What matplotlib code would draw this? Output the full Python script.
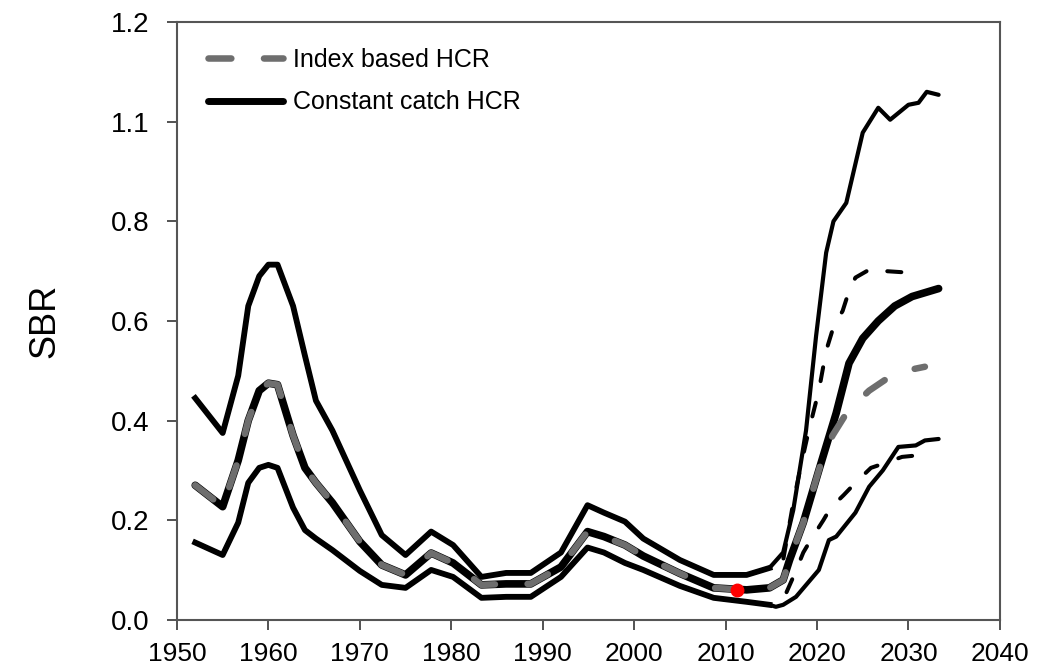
import matplotlib.pyplot as plt
from matplotlib.lines import Line2D

plt.rcParams['font.family'] = ['Liberation Sans', 'DejaVu Sans']

# historic SBR (both HCRs share this part)
hist_years = [1952, 1955, 1956.7, 1957.8, 1959, 1960, 1961, 1962.7, 1964, 1965.2,
              1967, 1970, 1972.4, 1975, 1977.8, 1980.2, 1983.3, 1986, 1988.7, 1992,
              1994.9, 1996.7, 1999, 2001, 2005, 2008.7, 2012.3, 2014.8]
hist_upper = [0.445, 0.375, 0.49, 0.63, 0.69, 0.713, 0.713, 0.63, 0.53, 0.44,
              0.38, 0.26, 0.17, 0.13, 0.177, 0.15, 0.086, 0.094, 0.094, 0.135,
              0.23, 0.215, 0.197, 0.163, 0.12, 0.09, 0.09, 0.104]
hist_median = [0.27, 0.227, 0.32, 0.40, 0.46, 0.475, 0.472, 0.37, 0.305, 0.275,
               0.235, 0.157, 0.11, 0.09, 0.134, 0.114, 0.07, 0.072, 0.072, 0.106,
               0.177, 0.167, 0.15, 0.128, 0.093, 0.064, 0.06, 0.064]
hist_lower = [0.155, 0.13, 0.195, 0.275, 0.305, 0.311, 0.305, 0.225, 0.18, 0.163,
              0.14, 0.098, 0.07, 0.064, 0.10, 0.086, 0.044, 0.046, 0.046, 0.086,
              0.145, 0.135, 0.114, 0.10, 0.068, 0.044, 0.036, 0.03]

# constant catch HCR projections
cc_up_years = [2016.3, 2017.4, 2018.8, 2019.9, 2021, 2021.8, 2023.2, 2025, 2026.7,
               2028, 2030, 2031.1, 2032, 2033.3]
cc_up = [0.135, 0.22, 0.38, 0.57, 0.737, 0.80, 0.837, 0.978, 1.028,
         1.004, 1.034, 1.038, 1.06, 1.054]
cc_med_years = [2016.3, 2017, 2018.5, 2020.2, 2022.1, 2023.5, 2025, 2026.7, 2028.5,
                2030.4, 2033.3]
cc_med = [0.08, 0.12, 0.195, 0.30, 0.415, 0.515, 0.565, 0.60, 0.63, 0.649, 0.665]
cc_low_years = [2015.5, 2016.3, 2017.7, 2020.2, 2021.3, 2022.1, 2024.2, 2025.7,
                2027.2, 2028.9, 2030.8, 2031.8, 2033.3]
cc_low = [0.026, 0.03, 0.046, 0.10, 0.16, 0.167, 0.215, 0.267, 0.30, 0.347,
          0.35, 0.36, 0.363]

# index based HCR projections
ib_up_years = [2016.3, 2017.4, 2018.3, 2019.1, 2020.2, 2021, 2021.8, 2022.8, 2023.5,
               2024.2, 2026.1, 2027.5, 2030, 2031.5]
ib_up = [0.12, 0.235, 0.315, 0.38, 0.46, 0.54, 0.588, 0.62, 0.66,
         0.687, 0.707, 0.70, 0.697, 0.707]
ib_med_years = [2016.3, 2017, 2018.5, 2020.2, 2020.7, 2021.7, 2023.4, 2025.7, 2028.6,
                2031.8]
ib_med = [0.08, 0.12, 0.195, 0.30, 0.33, 0.37, 0.42, 0.46, 0.496, 0.508]
ib_low_years = [2016.3, 2017.5, 2018.5, 2019.3, 2020.7, 2021.5, 2022.9, 2024.2,
                2025.9, 2027.5, 2029.3, 2031.5]
ib_low = [0.04, 0.09, 0.135, 0.16, 0.20, 0.225, 0.25, 0.275, 0.305, 0.315,
          0.327, 0.331]

# current estimate
obs_year = [2011.3]
obs_sbr = [0.06]

x_ticks = [1950, 1960, 1970, 1980, 1990, 2000, 2010, 2020, 2030, 2040]
y_ticks = [0.0, 0.2, 0.4, 0.6, 0.8, 1.0, 1.2]
y_labels = ["0.0", "0.2", "0.4", "0.6", "0.8", "1.1", "1.2"]

fig = plt.figure(figsize=(10.47, 6.70), dpi=100)
ax = fig.add_axes([0.169, 0.075, 0.786, 0.892])

gray = "#6e6e6e"
thin = dict(color="black", lw=3.0, solid_capstyle="round", solid_joinstyle="round")
dash_blk = dict(color="black", lw=2.9, dashes=(3.5, 5.5), dash_capstyle="round")

# constant catch
ax.plot(hist_years + cc_up_years, hist_upper + cc_up, **thin)
ax.plot(hist_years + cc_low_years, hist_lower + cc_low, **thin)
ax.plot(hist_years + cc_med_years, hist_median + cc_med, color="black", lw=5.5,
        solid_capstyle="round", solid_joinstyle="round")

# index based (historic part overlaps the constant catch lines)
ax.plot(hist_years, hist_upper, color="black", lw=4.2, solid_joinstyle="round")
ax.plot(hist_years, hist_lower, color="black", lw=4.2, solid_joinstyle="round")
ax.plot(hist_years + ib_up_years, hist_upper + ib_up, **dash_blk)
ax.plot(hist_years + ib_low_years, hist_lower + ib_low, **dash_blk)
ax.plot(hist_years + ib_med_years, hist_median + ib_med, color=gray, lw=4.7,
        dashes=(3.5, 5), dash_capstyle="round")

ax.plot(obs_year, obs_sbr, "o", color="red", ms=9, zorder=5)

ax.set_xlim(1950, 2040)
ax.set_ylim(0, 1.2)
ax.set_xticks(x_ticks)
ax.set_xticklabels([str(x) for x in x_ticks])
ax.set_yticks(y_ticks)
ax.set_yticklabels(y_labels)
ax.tick_params(axis="x", direction="out", length=7, width=1.3, colors="#444444",
               labelcolor="black", labelsize=19, pad=9)
ax.tick_params(axis="y", direction="out", length=7, width=1.3, colors="#444444",
               labelcolor="black", labelsize=20, pad=13)
for sp in ax.spines.values():
    sp.set_color("#555555")
    sp.set_linewidth(1.5)

ax.set_ylabel("SBR", fontsize=26, labelpad=35)

handles = [
    Line2D([0], [0], color=gray, lw=4.7, dashes=(3.5, 5), dash_capstyle="round"),
    Line2D([0], [0], color="black", lw=5, solid_capstyle="round"),
]
ax.legend(handles, ["Index based HCR", "Constant catch HCR"], loc="upper left",
          bbox_to_anchor=(0.01, 0.995), frameon=False, fontsize=18,
          handlelength=3.0, handletextpad=0.4, labelspacing=0.75)

plt.savefig("out.png", dpi=100)
